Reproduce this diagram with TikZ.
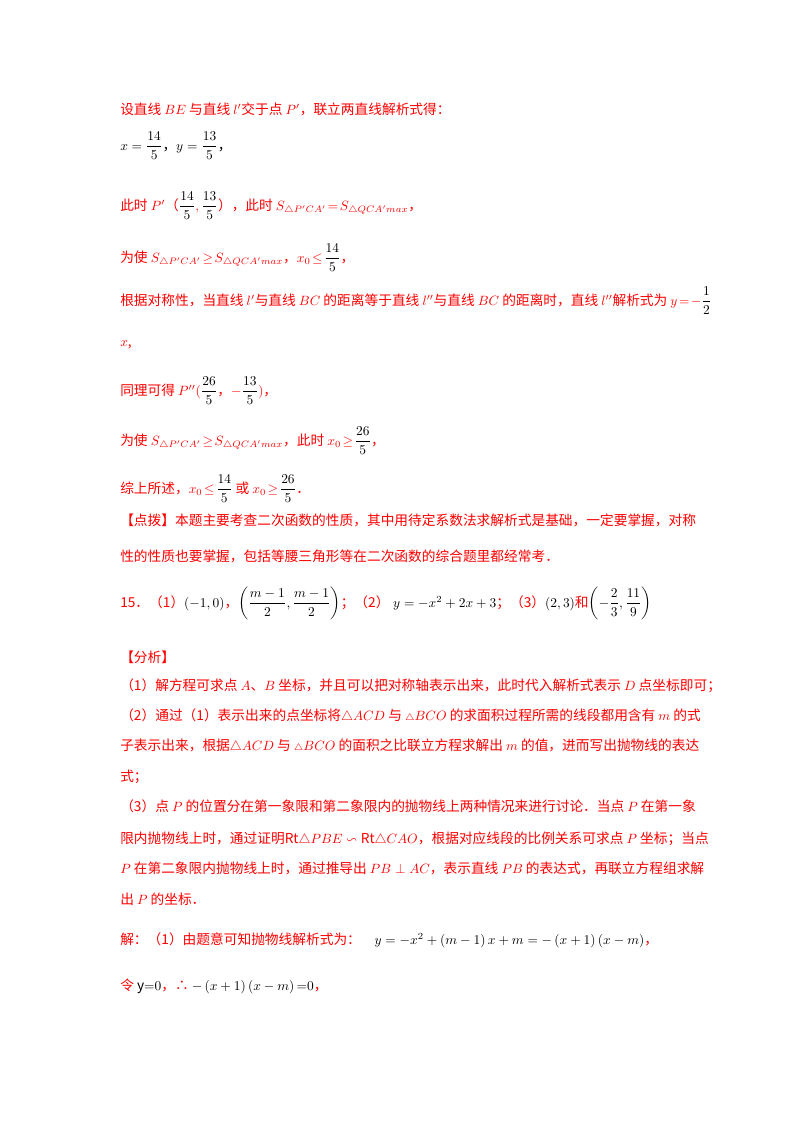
\documentclass[tikz,border=0pt]{standalone}
\usepackage{amsmath,amssymb}
\usepackage{fontspec}
\setmainfont{Noto Sans CJK SC}
\begin{document}
\begin{tikzpicture}[x=0.744pt,y=-0.744pt,
  every node/.style={anchor=base west,inner sep=0pt,font=\fontsize{10.2}{12}\selectfont},
  rl/.style={text=red}, bl/.style={text=black}]
\useasboundingbox[fill=white] (0,0) rectangle (800,1132);
\newcommand{\K}[1]{{\color{black}#1}}
\newcommand{\F}[2]{\K{\dfrac{#1}{#2}}}
\node[rl] (l1) at (120,114) {设直线 $BE$ 与直线 $l'$交于点 $P'$，联立两直线解析式得：};
\node[bl] (l2) at (120,150) {$x=\dfrac{14}{5}$，$y=\dfrac{13}{5}$，};
\node[rl] (l3) at (120,210) {此时 $P'$（$\F{14}{5},\F{13}{5}$），此时 $S_{\triangle P'CA'}\!=\!S_{\triangle QCA'max}$，};
\node[rl] (l4) at (120,262) {为使 $S_{\triangle P'CA'}\!\ge\! S_{\triangle QCA'max}$，$x_0\!\le\!\F{14}{5}$，};
\node[rl] (l5) at (120,305) {根据对称性，当直线 $l'$与直线 $BC$ 的距离等于直线 $l''$与直线 $BC$ 的距离时，直线 $l''$解析式为 $y\!=\!-\F{1}{2}$};
\node[rl] (l6) at (120,346) {$x$,};
\node[rl] (l7) at (120,395) {同理可得 $P''(\F{26}{5}$，$-\F{13}{5})$，};
\node[rl] (l8) at (120,445) {为使 $S_{\triangle P'CA'}\!\ge\! S_{\triangle QCA'max}$，此时 $x_0\!\ge\!\F{26}{5}$，};
\node[rl] (l9) at (120,493) {综上所述，$x_0\!\le\!\F{14}{5}$ 或 $x_0\!\ge\!\F{26}{5}$．};
\node[rl] (l10) at (120,525) {【点拨】本题主要考查二次函数的性质，其中用待定系数法求解析式是基础，一定要掌握，对称};
\node[rl] (l11) at (120,561) {性的性质也要掌握，包括等腰三角形等在二次函数的综合题里都经常考．};
\node[rl] (l12) at (120,607) {15．（1）\K{$\left(-1,0\right)$}，\K{$\left(\dfrac{m-1}{2},\dfrac{m-1}{2}\right)$}；（2）\K{$\;y=-x^2+2x+3$}；（3）\K{$\left(2,3\right)$}和\K{$\left(-\dfrac{2}{3},\dfrac{11}{9}\right)$}};
\node[rl] (l13) at (120,662) {【分析】};
\node[rl] (l14) at (120,690) {（1）解方程可求点 $A$、$B$ 坐标，并且可以把对称轴表示出来，此时代入解析式表示 $D$ 点坐标即可；};
\node[rl] (l15) at (120,720) {（2）通过（1）表示出来的点坐标将$\triangle ACD$ 与 ${\scriptstyle\triangle}BCO$ 的求面积过程所需的线段都用含有 $m$ 的式};
\node[rl] (l16) at (120,750) {子表示出来，根据$\triangle ACD$ 与 ${\scriptstyle\triangle}BCO$ 的面积之比联立方程求解出 $m$ 的值，进而写出抛物线的表达};
\node[rl] (l17) at (120,781) {式；};
\node[rl] (l18) at (120,811) {（3）点 $P$ 的位置分在第一象限和第二象限内的抛物线上两种情况来进行讨论．当点 $P$ 在第一象};
\node[rl] (l19) at (120,843) {限内抛物线上时，通过证明$\mathrm{Rt}\triangle PBE\backsim\mathrm{Rt}\triangle CAO$，根据对应线段的比例关系可求点 $P$ 坐标；当点};
\node[rl] (l20) at (120,873) {$P$ 在第二象限内抛物线上时，通过推导出 $PB\perp AC$，表示直线 $PB$ 的表达式，再联立方程组求解};
\node[rl] (l21) at (120,904) {出 $P$ 的坐标．};
\node[rl] (l22) at (120,944) {解：（1）由题意可知抛物线解析式为：\K{$\quad y=-x^2+\left(m-1\right)x+m=-\left(x+1\right)\left(x-m\right)$}，};
\node[rl] (l23) at (120,990) {令 \K{$\mathrm{y}{=}0$}，∴ \K{$-\left(x+1\right)\left(x-m\right){=}0$}，};
\end{tikzpicture}
\end{document}
